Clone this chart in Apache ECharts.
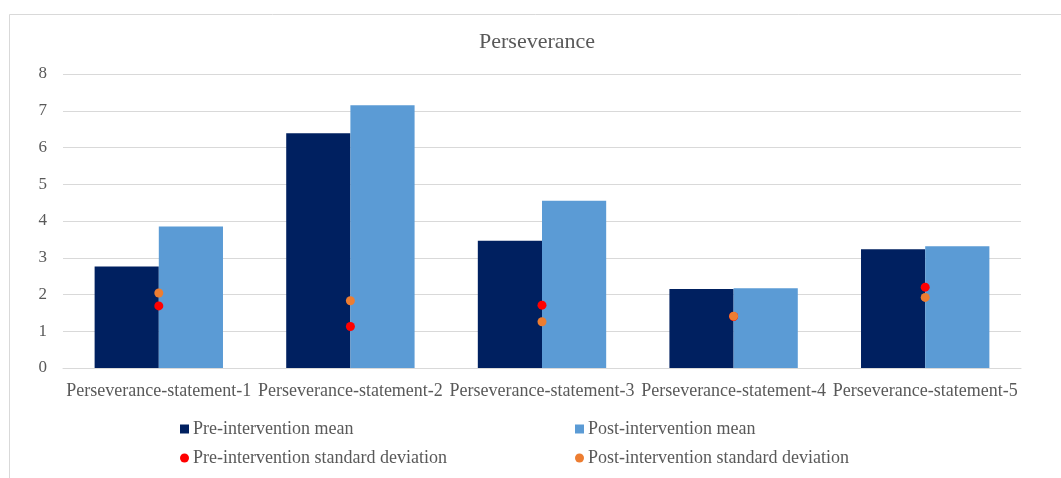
<!DOCTYPE html>
<html>
<head>
<meta charset="utf-8">
<script src="https://cdn.jsdelivr.net/npm/echarts@6/dist/echarts.min.js"></script>
<style>
  html, body { margin: 0; padding: 0; background: #ffffff; }
  #chart { width: 1061px; height: 478px; }
</style>
</head>
<body>
<div id="chart"></div>
<script>
// Perseverance statements: pre/post intervention means and standard deviations
const categories = [
  'Perseverance-statement-1',
  'Perseverance-statement-2',
  'Perseverance-statement-3',
  'Perseverance-statement-4',
  'Perseverance-statement-5'
];
const preMean = [2.76, 6.39, 3.46, 2.15, 3.23];
const postMean = [3.85, 7.15, 4.55, 2.17, 3.31];
const preSD = [1.69, 1.13, 1.71, 1.40, 2.20];
const postSD = [2.04, 1.83, 1.26, 1.41, 1.92];
const yTicks = [0, 1, 2, 3, 4, 5, 6, 7, 8];

const seriesNames = [
  'Pre-intervention mean',
  'Post-intervention mean',
  'Pre-intervention standard deviation',
  'Post-intervention standard deviation'
];

const textColor = '#595959';
const fontFamily = '"Liberation Serif", "Times New Roman", serif';

const chart = echarts.init(document.getElementById('chart'), null, { renderer: 'canvas' });

function legendAt(name, left, top, icon) {
  return {
    data: [name],
    left: left,
    top: top,
    icon: icon,
    itemWidth: 9,
    itemHeight: 9,
    itemGap: 0,
    padding: 0,
    selectedMode: false,
    textStyle: { color: textColor, fontFamily: fontFamily, fontSize: 18, padding: [0, 0, 0, -1] }
  };
}

chart.setOption({
  animation: false,
  backgroundColor: '#ffffff',
  graphic: [{
    type: 'rect',
    shape: { x: 9.5, y: 14.5, width: 1100, height: 500 },
    style: { fill: 'none', stroke: '#d9d9d9', lineWidth: 1 },
    silent: true
  }],
  title: {
    text: 'Perseverance',
    left: 479,
    top: 31,
    padding: 0,
    textStyle: { color: textColor, fontFamily: fontFamily, fontSize: 22, fontWeight: 'normal' }
  },
  legend: [
    legendAt(seriesNames[0], 180, 420, 'rect'),
    legendAt(seriesNames[1], 575, 420, 'rect'),
    legendAt(seriesNames[2], 180, 449, 'circle'),
    legendAt(seriesNames[3], 575, 449, 'circle')
  ],
  grid: { left: 63, right: 40, top: 74, bottom: 110, containLabel: false },
  xAxis: {
    type: 'category',
    data: categories,
    axisLine: { show: true, lineStyle: { color: '#d9d9d9', width: 1 } },
    axisTick: { show: false },
    axisLabel: { color: textColor, fontFamily: fontFamily, fontSize: 18, margin: 14, interval: 0 }
  },
  yAxis: {
    type: 'value',
    min: yTicks[0],
    max: yTicks[yTicks.length - 1],
    interval: 1,
    axisLine: { show: false },
    axisTick: { show: false },
    axisLabel: { color: textColor, fontFamily: fontFamily, fontSize: 17, margin: 16 },
    splitLine: { lineStyle: { color: '#d9d9d9', width: 1 } }
  },
  series: [
    {
      name: seriesNames[0],
      type: 'bar',
      data: preMean,
      barGap: '0%',
      barCategoryGap: '33%',
      itemStyle: { color: '#002060' }
    },
    {
      name: seriesNames[1],
      type: 'bar',
      data: postMean,
      itemStyle: { color: '#5b9bd5' }
    },
    {
      name: seriesNames[2],
      type: 'scatter',
      data: preSD,
      symbol: 'circle',
      symbolSize: 9,
      itemStyle: { color: '#ff0000', opacity: 1 },
      z: 3
    },
    {
      name: seriesNames[3],
      type: 'scatter',
      data: postSD,
      symbol: 'circle',
      symbolSize: 9,
      itemStyle: { color: '#ed7d31', opacity: 1 },
      z: 4
    }
  ]
});
</script>
</body>
</html>
